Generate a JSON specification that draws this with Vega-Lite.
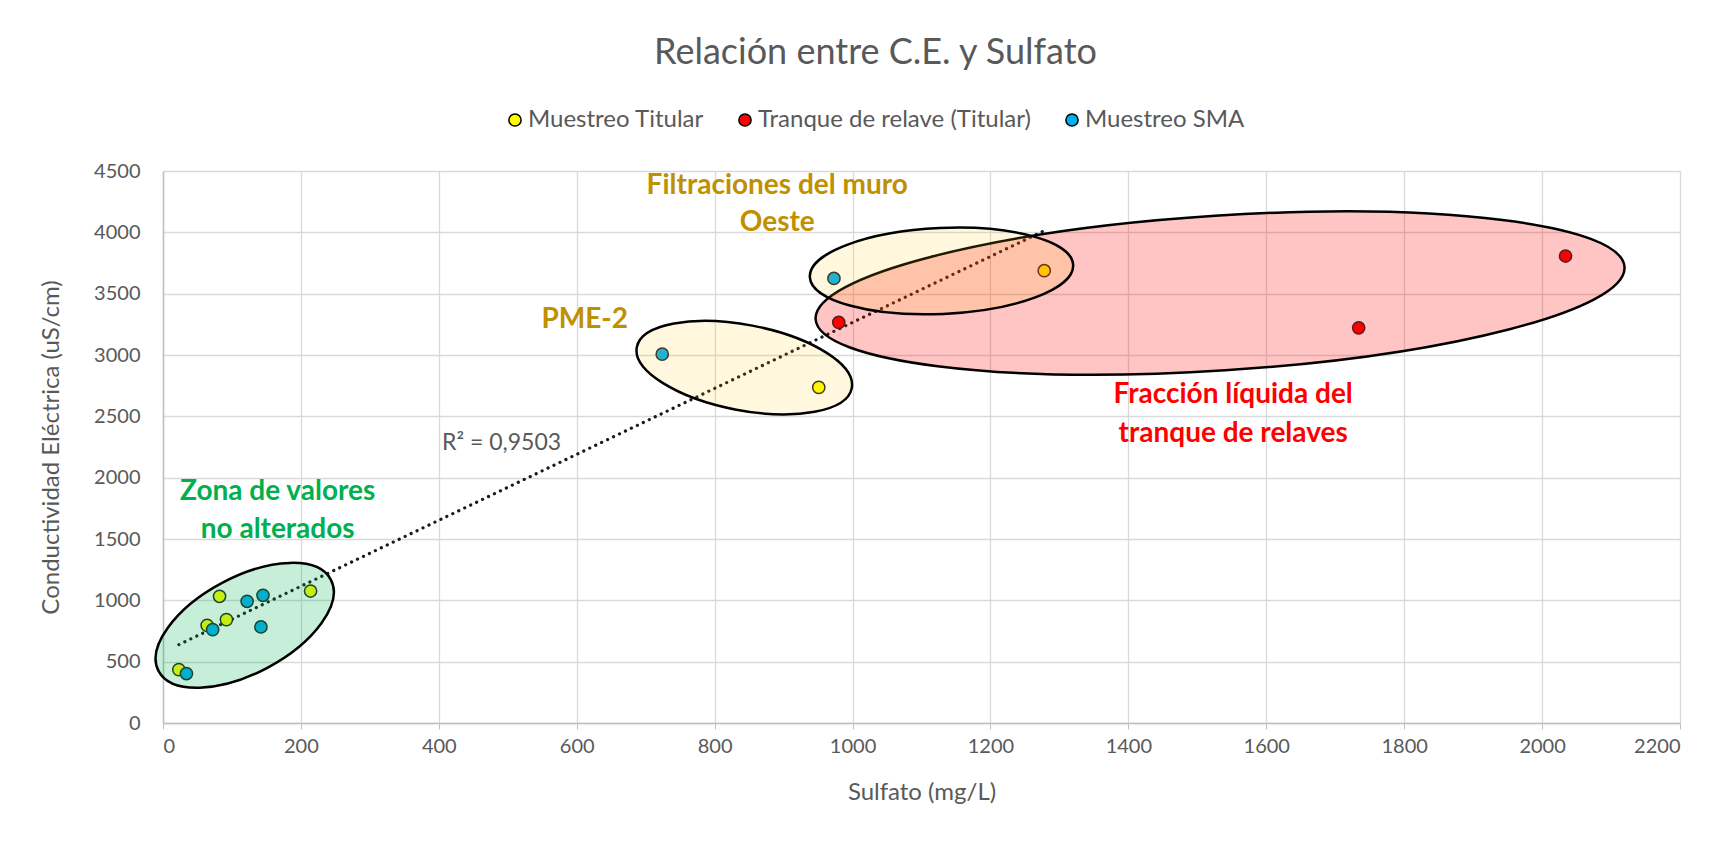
{
  "$schema": "https://vega.github.io/schema/vega-lite/v6.json",
  "width": 1517,
  "height": 552,
  "autosize": {"type": "none"},
  "padding": {"left": 163, "top": 171, "right": 50, "bottom": 118},
  "background": "white",
  "config": {
    "view": {"stroke": null},
    "font": "Lato",
    "axis": {
      "labelFont": "Lato", "labelFontSize": 20, "labelColor": "#595959",
      "titleFont": "Lato", "titleFontSize": 24, "titleColor": "#595959", "titleFontWeight": "normal",
      "gridColor": "#d9d9d9", "gridWidth": 1.3, "domainColor": "#bfbfbf", "domainWidth": 1.5, "tickColor": "#bfbfbf"
    }
  },
  "title": {
    "text": "Relación entre C.E. y Sulfato",
    "anchor": "middle", "frame": "group", "dx": -46, "offset": 36,
    "fontSize": 36, "font": "Lato", "fontWeight": "normal", "color": "#595959"
  },
  "datasets": {
    "muestras": [
      {"serie": "Muestreo Titular", "sulfato": 23, "ce": 435},
      {"serie": "Muestreo Titular", "sulfato": 64, "ce": 796},
      {"serie": "Muestreo Titular", "sulfato": 82, "ce": 1033},
      {"serie": "Muestreo Titular", "sulfato": 92, "ce": 843},
      {"serie": "Muestreo Titular", "sulfato": 214, "ce": 1076},
      {"serie": "Muestreo Titular", "sulfato": 951, "ce": 2736},
      {"serie": "Muestreo Titular", "sulfato": 1278, "ce": 3687},
      {"serie": "Tranque de relave (Titular)", "sulfato": 980, "ce": 3266},
      {"serie": "Tranque de relave (Titular)", "sulfato": 1734, "ce": 3222},
      {"serie": "Tranque de relave (Titular)", "sulfato": 2034, "ce": 3807},
      {"serie": "Muestreo SMA", "sulfato": 34, "ce": 403},
      {"serie": "Muestreo SMA", "sulfato": 72, "ce": 761},
      {"serie": "Muestreo SMA", "sulfato": 122, "ce": 992},
      {"serie": "Muestreo SMA", "sulfato": 142, "ce": 783},
      {"serie": "Muestreo SMA", "sulfato": 145, "ce": 1041},
      {"serie": "Muestreo SMA", "sulfato": 724, "ce": 3007},
      {"serie": "Muestreo SMA", "sulfato": 973, "ce": 3624}
    ],
    "tendencia": [
      {"sulfato": 23, "ce": 639},
      {"sulfato": 1278, "ce": 4013}
    ],
    "zonas": [
      {"zona": "relaves", "sulfato": 1533, "ce": 3505},
      {"zona": "filtraciones", "sulfato": 1129, "ce": 3685},
      {"zona": "pme2", "sulfato": 843, "ce": 2897},
      {"zona": "no alterados", "sulfato": 118.5, "ce": 796}
    ],
    "anotaciones": [
      {"tipo": "oro", "nota": "Filtraciones del muro\nOeste", "sulfato": 890.8, "ce": 4380},
      {"tipo": "oro", "nota": "PME-2", "sulfato": 611.6, "ce": 3283},
      {"tipo": "rojo", "nota": "Fracción líquida del\ntranque de relaves", "sulfato": 1552, "ce": 2670},
      {"tipo": "verde", "nota": "Zona de valores\nno alterados", "sulfato": 166.3, "ce": 1880},
      {"tipo": "r2", "nota": "R² = 0,9503", "sulfato": 491, "ce": 2285}
    ]
  },
  "encoding": {
    "x": {
      "field": "sulfato", "type": "quantitative",
      "scale": {"domain": [0, 2200], "nice": false, "zero": false},
      "axis": {"title": "Sulfato (mg/L)", "format": "d", "values": [0, 200, 400, 600, 800, 1000, 1200, 1400, 1600, 1800, 2000, 2200], "tickSize": 6, "labelPadding": 7, "titlePadding": 24}
    },
    "y": {
      "field": "ce", "type": "quantitative",
      "scale": {"domain": [0, 4500], "nice": false, "zero": false},
      "axis": {"title": "Conductividad Eléctrica (uS/cm)", "format": "d", "values": [0, 500, 1000, 1500, 2000, 2500, 3000, 3500, 4000, 4500], "tickSize": 0, "labelPadding": 23, "titlePadding": 30}
    }
  },
  "layer": [
    {
      "data": {"name": "tendencia"},
      "mark": {"type": "line", "color": "#1a1a1a", "strokeWidth": 3.2, "strokeCap": "round", "strokeDash": [0.1, 6.5]}
    },
    {
      "data": {"name": "muestras"},
      "mark": {"type": "point", "filled": true, "size": 150, "stroke": "#262626", "strokeWidth": 1.5, "opacity": 1},
      "encoding": {
        "color": {
          "field": "serie", "type": "nominal",
          "scale": {"domain": ["Muestreo Titular", "Tranque de relave (Titular)", "Muestreo SMA"], "range": ["#FFFF00", "#FF0000", "#00B0F0"]},
          "legend": {
            "orient": "none", "legendX": 340, "legendY": -63, "direction": "horizontal", "title": null,
            "labelFont": "Lato", "labelFontSize": 24, "labelColor": "#595959", "labelLimit": 600,
            "symbolType": "circle", "symbolSize": 150, "symbolStrokeColor": "black", "symbolStrokeWidth": 1.5,
            "columnPadding": 29, "labelOffset": 1, "padding": 0
          }
        }
      }
    },
    {
      "data": {"name": "zonas"},
      "transform": [{"filter": "datum.zona === 'relaves'"}],
      "mark": {"type": "point", "filled": true, "fill": "#FF0000", "fillOpacity": 0.23, "stroke": "black", "strokeWidth": 2.5, "strokeOpacity": 1, "size": 657073, "angle": 356.3,
        "shape": "M1,0C1,0.1055 0.5523,0.191 0,0.191C-0.5523,0.191 -1,0.1055 -1,0C-1,-0.1055 -0.5523,-0.191 0,-0.191C0.5523,-0.191 1,-0.1055 1,0Z"}
    },
    {
      "data": {"name": "zonas"},
      "transform": [{"filter": "datum.zona === 'filtraciones'"}],
      "mark": {"type": "point", "filled": true, "fill": "#FFC000", "fillOpacity": 0.13, "stroke": "black", "strokeWidth": 2.5, "strokeOpacity": 1, "size": 69485, "angle": 357.4,
        "shape": "M1,0C1,0.18 0.5523,0.326 0,0.326C-0.5523,0.326 -1,0.18 -1,0C-1,-0.18 -0.5523,-0.326 0,-0.326C0.5523,-0.326 1,-0.18 1,0Z"}
    },
    {
      "data": {"name": "zonas"},
      "transform": [{"filter": "datum.zona === 'pme2'"}],
      "mark": {"type": "point", "filled": true, "fill": "#FFC000", "fillOpacity": 0.13, "stroke": "black", "strokeWidth": 2.5, "strokeOpacity": 1, "size": 47873, "angle": 10.8,
        "shape": "M1,0C1,0.216 0.5523,0.391 0,0.391C-0.5523,0.391 -1,0.216 -1,0C-1,-0.216 -0.5523,-0.391 0,-0.391C0.5523,-0.391 1,-0.216 1,0Z"}
    },
    {
      "data": {"name": "zonas"},
      "transform": [{"filter": "datum.zona === 'no alterados'"}],
      "mark": {"type": "point", "filled": true, "fill": "#00B050", "fillOpacity": 0.22, "stroke": "black", "strokeWidth": 2.5, "strokeOpacity": 1, "size": 38025, "angle": 332,
        "shape": "M1,0C1,0.2729 0.5523,0.494 0,0.494C-0.5523,0.494 -1,0.2729 -1,0C-1,-0.2729 -0.5523,-0.494 0,-0.494C0.5523,-0.494 1,-0.2729 1,0Z"}
    },
    {
      "data": {"name": "anotaciones"},
      "transform": [{"filter": "datum.tipo === 'oro'"}],
      "mark": {"type": "text", "font": "Lato", "fontWeight": "bold", "fontSize": 28, "color": "#BF9000", "lineBreak": "\n", "lineHeight": 37, "align": "center", "baseline": "middle"},
      "encoding": {"text": {"field": "nota"}}
    },
    {
      "data": {"name": "anotaciones"},
      "transform": [{"filter": "datum.tipo === 'rojo'"}],
      "mark": {"type": "text", "font": "Lato", "fontWeight": "bold", "fontSize": 28, "color": "#FF0000", "lineBreak": "\n", "lineHeight": 39, "align": "center", "baseline": "middle"},
      "encoding": {"text": {"field": "nota"}}
    },
    {
      "data": {"name": "anotaciones"},
      "transform": [{"filter": "datum.tipo === 'verde'"}],
      "mark": {"type": "text", "font": "Lato", "fontWeight": "bold", "fontSize": 28, "color": "#00B050", "lineBreak": "\n", "lineHeight": 37.5, "align": "center", "baseline": "middle"},
      "encoding": {"text": {"field": "nota"}}
    },
    {
      "data": {"name": "anotaciones"},
      "transform": [{"filter": "datum.tipo === 'r2'"}],
      "mark": {"type": "text", "font": "Lato", "fontWeight": "normal", "fontSize": 23, "color": "#595959", "align": "center", "baseline": "middle"},
      "encoding": {"text": {"field": "nota"}}
    }
  ]
}
